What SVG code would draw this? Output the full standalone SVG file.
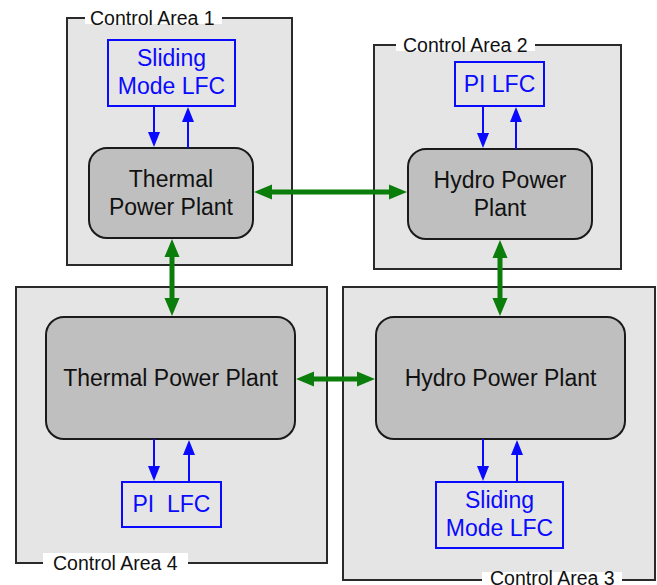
<svg xmlns="http://www.w3.org/2000/svg" width="657" height="585" viewBox="0 0 657 585">
<style>
.area{fill:#e5e5e5;stroke:#2a2a2a;stroke-width:2}
.gap{fill:#ffffff;stroke:none}
.alabel{font-family:"Liberation Sans",Arial,sans-serif;font-size:19.5px;fill:#111}
.plant{fill:#bfbfbf;stroke:#1a1a1a;stroke-width:2}
.ptext{font-family:"Liberation Sans",Arial,sans-serif;font-size:23px;fill:#111;text-anchor:middle}
.lfc{fill:none;stroke:#0a0aff;stroke-width:2}
.ltext{font-family:"Liberation Sans",Arial,sans-serif;font-size:23px;fill:#0a0aff;text-anchor:middle}
.blue{stroke:#0a0aff;stroke-width:2;fill:none;marker-end:url(#bh)}
.green{stroke:#0a7d0a;stroke-width:5;fill:none;marker-start:url(#gh);marker-end:url(#gh)}
</style>
<defs>
<marker id="bh" markerUnits="userSpaceOnUse" markerWidth="16" markerHeight="14" refX="1" refY="6" orient="auto" overflow="visible">
<path d="M0,0 L15,6 L0,12 z" fill="#0a0aff"/>
</marker>
<marker id="gh" markerUnits="userSpaceOnUse" markerWidth="20" markerHeight="16" refX="1" refY="7.5" orient="auto-start-reverse" overflow="visible">
<path d="M0,0 L18,7.5 L0,15 z" fill="#0a7d0a"/>
</marker>
</defs>

<g id="area1">
<rect class="area" x="67" y="18" width="225" height="247"/>
<rect class="gap" x="85" y="8" width="137" height="16"/>
<text class="alabel" x="90" y="25">Control Area 1</text>
</g>
<g id="area2">
<rect class="area" x="374" y="45" width="247" height="224"/>
<rect class="gap" x="396" y="35" width="139" height="16"/>
<text class="alabel" x="403" y="52">Control Area 2</text>
</g>
<g id="area4">
<rect class="area" x="16" y="287" width="311" height="276"/>
<rect class="gap" x="43" y="553" width="145" height="20"/>
<text class="alabel" x="53" y="570">Control Area 4</text>
</g>
<g id="area3">
<rect class="area" x="343" y="287" width="312" height="293"/>
<rect class="gap" x="482" y="572" width="140" height="16"/>
<text class="alabel" x="490" y="585">Control Area 3</text>
</g>

<g id="lfc1">
<rect class="lfc" x="108" y="40" width="127" height="66"/>
<text class="ltext" x="171.5" y="66">Sliding</text>
<text class="ltext" x="171.5" y="94">Mode LFC</text>
</g>
<g id="plant1">
<rect class="plant" x="89" y="148" width="164" height="90" rx="18"/>
<text class="ptext" x="171" y="187">Thermal</text>
<text class="ptext" x="171" y="215">Power Plant</text>
</g>

<g id="lfc2">
<rect class="lfc" x="455" y="62" width="89" height="44"/>
<text class="ltext" x="499.5" y="92">PI LFC</text>
</g>
<g id="plant2">
<rect class="plant" x="408" y="149" width="184" height="90" rx="18"/>
<text class="ptext" x="500" y="188">Hydro Power</text>
<text class="ptext" x="500" y="216">Plant</text>
</g>

<g id="plant4">
<rect class="plant" x="46" y="317" width="249" height="122" rx="18"/>
<text class="ptext" x="170.5" y="386">Thermal Power Plant</text>
</g>
<g id="lfc4">
<rect class="lfc" x="122" y="482" width="99" height="45"/>
<text class="ltext" x="171.5" y="512" xml:space="preserve">PI  LFC</text>
</g>

<g id="plant3">
<rect class="plant" x="376" y="317" width="249" height="122" rx="18"/>
<text class="ptext" x="500.5" y="386">Hydro Power Plant</text>
</g>
<g id="lfc3">
<rect class="lfc" x="436" y="482" width="127" height="66"/>
<text class="ltext" x="499.5" y="508">Sliding</text>
<text class="ltext" x="499.5" y="536">Mode LFC</text>
</g>

<g id="connectors">
<line class="blue" x1="154" y1="106" x2="154" y2="133"/>
<line class="blue" x1="188" y1="148" x2="188" y2="121"/>
<line class="blue" x1="483" y1="106" x2="483" y2="134"/>
<line class="blue" x1="516" y1="149" x2="516" y2="121"/>
<line class="blue" x1="154" y1="439" x2="154" y2="467"/>
<line class="blue" x1="189" y1="482" x2="189" y2="454"/>
<line class="blue" x1="483" y1="439" x2="483" y2="467"/>
<line class="blue" x1="517" y1="482" x2="517" y2="454"/>
<line class="green" x1="271" y1="192" x2="390" y2="192"/>
<line class="green" x1="172" y1="256" x2="172" y2="299"/>
<line class="green" x1="500" y1="257" x2="500" y2="299"/>
<line class="green" x1="313" y1="379" x2="358" y2="379"/>
</g>
</svg>
